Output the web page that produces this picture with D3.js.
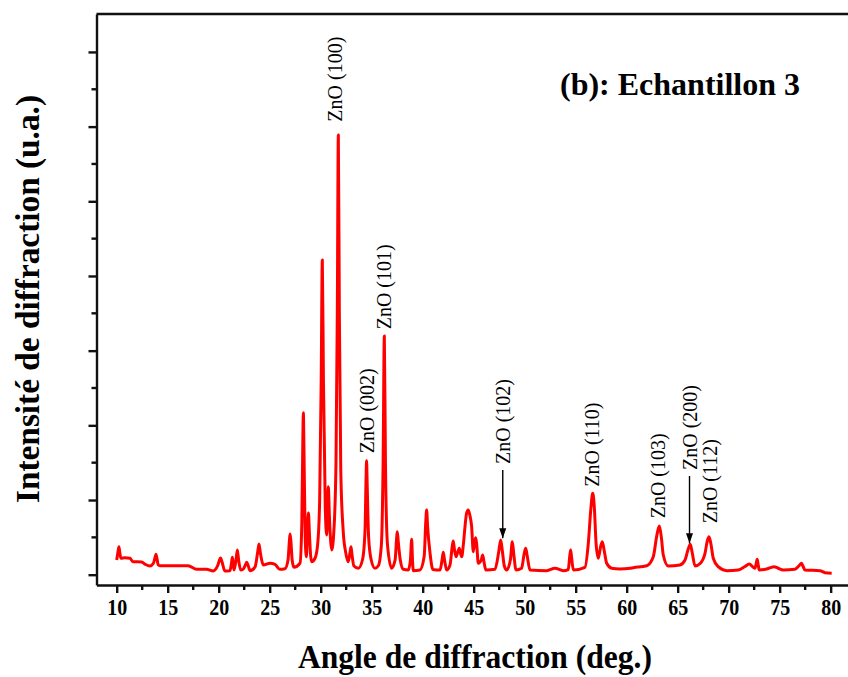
<!DOCTYPE html>
<html>
<head>
<meta charset="utf-8">
<script src="https://cdn.jsdelivr.net/npm/d3@7"></script>
<style>
  body { margin: 0; background: #fff; }
  text { font-family: "Liberation Serif", "Times New Roman", serif; }
</style>
</head>
<body>
<script>
// the canvas size
var width = 848
var height = 677

// XRD pattern (2theta in deg, intensity in a.u.)
const angles = [
  10.0, 10.12, 10.22, 10.32, 10.42, 10.8, 11.3, 11.6, 12.45, 12.8, 13.26, 13.6, 13.78, 13.85, 13.93, 14.08, 14.24,
  17.0, 17.84, 18.8, 19.47, 19.9, 20.18, 20.35, 20.6, 21.1, 21.25, 21.34, 21.42, 21.5, 21.7, 21.83, 21.95, 22.16,
  22.4, 22.65, 22.75, 22.87, 23.07, 23.56, 23.8, 23.95, 24.1, 24.37, 25.03, 25.52, 26.0, 26.5, 26.8, 26.93, 27.0,
  27.08, 27.2, 27.38, 27.97, 28.15, 28.25, 28.3, 28.36, 28.48, 28.6, 28.7, 28.8, 28.88, 29.0, 29.12, 29.44, 29.7,
  29.9, 30.05, 30.16, 30.27, 30.45, 30.59, 30.68, 30.75, 30.85, 31.08, 31.3, 31.5, 31.63, 31.73, 31.83, 31.97, 32.2,
  32.45, 32.7, 32.88, 32.97, 33.06, 33.26, 33.69, 34.1, 34.35, 34.45, 34.5, 34.56, 34.7, 34.95, 35.32, 35.65, 35.95,
  36.12, 36.24, 36.35, 36.55, 36.96, 37.3, 37.45, 37.51, 37.6, 37.8, 38.1, 38.59, 38.8, 38.92, 39.0, 39.08, 39.73,
  40.15, 40.3, 40.39, 40.48, 40.72, 41.0, 41.7, 41.9, 42.02, 42.14, 42.35, 42.68, 42.9, 43.0, 43.1, 43.27, 43.5,
  43.59, 43.7, 43.82, 44.0, 44.15, 44.3, 44.47, 44.62, 44.8, 44.96, 45.1, 45.2, 45.3, 45.45, 45.75, 45.88, 46.0,
  46.2, 47.09, 47.45, 47.65, 47.8, 48.0, 48.24, 48.6, 48.79, 48.95, 49.15, 49.7, 49.95, 50.1, 50.25, 50.52, 52.16,
  52.97, 53.78, 54.27, 54.42, 54.51, 54.6, 54.77, 55.91, 56.24, 56.5, 56.67, 56.83, 57.0, 57.22, 57.45, 57.61, 57.8,
  58.04, 58.53, 59.34, 60.32, 60.65, 61.96, 62.61, 62.95, 63.2, 63.4, 63.59, 64.08, 65.22, 65.72, 66.05, 66.24,
  66.42, 66.7, 67.2, 67.68, 67.9, 68.07, 68.25, 68.49, 68.98, 69.8, 70.94, 71.6, 72.02, 72.4, 72.58, 72.7, 72.8,
  72.9, 73.0, 73.72, 74.1, 74.44, 74.8, 75.35, 76.5, 76.9, 77.15, 77.3, 77.48, 78.95, 79.44, 80.1
]
const counts = [
  197, 300, 375, 280, 220, 228, 220, 174, 170, 139, 116, 153, 240, 273, 230, 130, 120,
  120, 72, 72, 50, 120, 225, 160, 50, 54, 150, 233, 150, 63, 200, 331, 200, 63,
  75, 140, 166, 130, 54, 100, 280, 411, 280, 130, 153, 139, 72, 80, 200, 450, 545,
  450, 200, 99, 153, 700, 1800, 2169, 1700, 500, 240, 600, 826, 600, 280, 174, 220, 400,
  1000, 2600, 4214, 2600, 900, 532, 900, 1178, 800, 331, 600, 1500, 3500, 5888, 3500, 1400, 600,
  300, 174, 300, 375, 280, 116, 86, 200, 600, 1300, 1526, 1200, 500, 200, 86, 120, 400,
  1500, 3196, 1500, 400, 86, 200, 500, 576, 450, 200, 72, 63, 200, 474, 200, 54, 63,
  250, 700, 866, 650, 290, 70, 63, 200, 300, 200, 63, 130, 380, 451, 350, 241, 330,
  353, 290, 241, 420, 643, 820, 866, 800, 643, 308, 440, 495, 400, 153, 200, 264, 180,
  63, 72, 300, 465, 330, 120, 63, 200, 442, 250, 63, 86, 280, 353, 250, 63, 54,
  86, 54, 69, 250, 331, 230, 63, 99, 420, 900, 1090, 900, 420, 220, 380, 442, 320,
  153, 86, 76, 86, 94, 120, 241, 520, 652, 500, 264, 116, 130, 197, 350, 407,
  300, 116, 150, 286, 450, 509, 420, 220, 107, 54, 63, 110, 143, 100, 86, 150, 206,
  130, 63, 76, 95, 107, 90, 63, 72, 120, 153, 110, 63, 54, 27, 19
]

// peak labels: text foot position (angle, intensity) and optional arrow
const peakLabels = ["ZnO (100)", "ZnO (002)", "ZnO (101)", "ZnO (102)", "ZnO (110)", "ZnO (103)", "ZnO (200)", "ZnO (112)"]
const labelAngles = [31.45, 34.51, 36.24, 47.9, 56.57, 63.1, 66.21, 68.17]
const labelLevels = [6066, 1626, 3286, 1482, 1178, 755, 1402, 688]
const arrowTop = [null, null, null, 1402, null, null, 1322, null]
const arrowTip = [null, null, null, 487, null, null, 420, null]

// axis ticks
const xMajor = d3.range(10, 81, 5)
const xMinor = d3.range(12.5, 80, 5)
const yMajor = d3.range(0, 7001, 1000)
const yMinor = d3.range(500, 7000, 1000)

const margin = {left: 96.5, top: 14, bottom: 585}

var x = d3.scaleLinear().domain([8.02, 81.7]).range([margin.left, width])
var y = d3.scaleLinear().domain([-138, 7508]).range([margin.bottom, margin.top])

const svg = d3.select('body').append('svg')
  .attr('width', width)
  .attr('height', height)

// the pattern
var data = angles.map((a, i) => [a, counts[i]])
svg.append('path')
  .datum(data)
  .attr('d', d3.line().x(d => x(d[0])).y(d => y(d[1])).curve(d3.curveMonotoneX))
  .style('fill', 'none')
  .style('stroke', '#ff0000')
  .style('stroke-width', 3)
  .style('stroke-linejoin', 'round')

// axes
var xAxis = svg.append('g').attr('transform', 'translate(0,' + margin.bottom + ')')
xAxis.call(d3.axisBottom(x).tickValues(xMajor).tickSize(8).tickSizeOuter(0).tickPadding(5).tickFormat(d3.format('d')))
xAxis.append('g').selectAll('line').data(xMinor).enter().append('line')
  .attr('x1', d => x(d)).attr('x2', d => x(d)).attr('y1', 0).attr('y2', 5)

var yAxis = svg.append('g').attr('transform', 'translate(' + margin.left + ',0)')
yAxis.call(d3.axisLeft(y).tickValues(yMajor).tickSize(8).tickSizeOuter(0).tickFormat(''))
yAxis.append('g').selectAll('line').data(yMinor).enter().append('line')
  .attr('y1', d => y(d)).attr('y2', d => y(d)).attr('x1', 0).attr('x2', -5)

svg.selectAll('.domain, .tick line, g line').style('stroke', '#111').style('stroke-width', 2.4)
// condensed bold tick labels like the original
xAxis.selectAll('.tick text')
  .attr('textLength', 20).attr('lengthAdjust', 'spacingAndGlyphs')
  .style('font-size', '24px').style('font-weight', 'bold').style('fill', '#000')

// top frame line
svg.append('line')
  .attr('x1', margin.left).attr('x2', width)
  .attr('y1', margin.top).attr('y2', margin.top)
  .style('stroke', '#111').style('stroke-width', 2.4)

// axis titles
svg.append('text')
  .attr('x', 475).attr('y', 668)
  .attr('text-anchor', 'middle')
  .attr('textLength', 354).attr('lengthAdjust', 'spacingAndGlyphs')
  .style('font-size', '33px').style('font-weight', 'bold')
  .text('Angle de diffraction (deg.)')

svg.append('text')
  .attr('transform', 'translate(39,299) rotate(-90)')
  .attr('text-anchor', 'middle')
  .attr('textLength', 408).attr('lengthAdjust', 'spacingAndGlyphs')
  .style('font-size', '33px').style('font-weight', 'bold')
  .text('Intensité de diffraction (u.a.)')

svg.append('text')
  .attr('x', 560).attr('y', 95)
  .attr('textLength', 240).attr('lengthAdjust', 'spacingAndGlyphs')
  .style('font-size', '31px').style('font-weight', 'bold')
  .text('(b): Echantillon 3')

// peak labels
var lab = svg.selectAll('g.lab').data(peakLabels).enter().append('g').attr('class', 'lab')
lab.append('text')
  .attr('transform', (d, i) => 'translate(' + x(labelAngles[i]) + ',' + y(labelLevels[i]) + ') rotate(-90)')
  .attr('dy', '0.35em')
  .style('font-size', '20px')
  .text(d => d)

svg.append('defs').append('marker')
  .attr('id', 'arr').attr('viewBox', '0 0 10 10')
  .attr('refX', 10).attr('refY', 5)
  .attr('markerWidth', 10).attr('markerHeight', 10)
  .attr('markerUnits', 'userSpaceOnUse')
  .attr('orient', 'auto')
  .append('path').attr('d', 'M0,1.5 L10,5 L0,8.5 Z').style('fill', '#000')

peakLabels.forEach(function(d, i){
  if(arrowTop[i] == null) return
  svg.append('line')
    .attr('x1', x(labelAngles[i]) - 0.5).attr('x2', x(labelAngles[i]) - 0.5)
    .attr('y1', y(arrowTop[i])).attr('y2', y(arrowTip[i]))
    .style('stroke', '#000').style('stroke-width', 1.4)
    .attr('marker-end', 'url(#arr)')
})
</script>
</body>
</html>
